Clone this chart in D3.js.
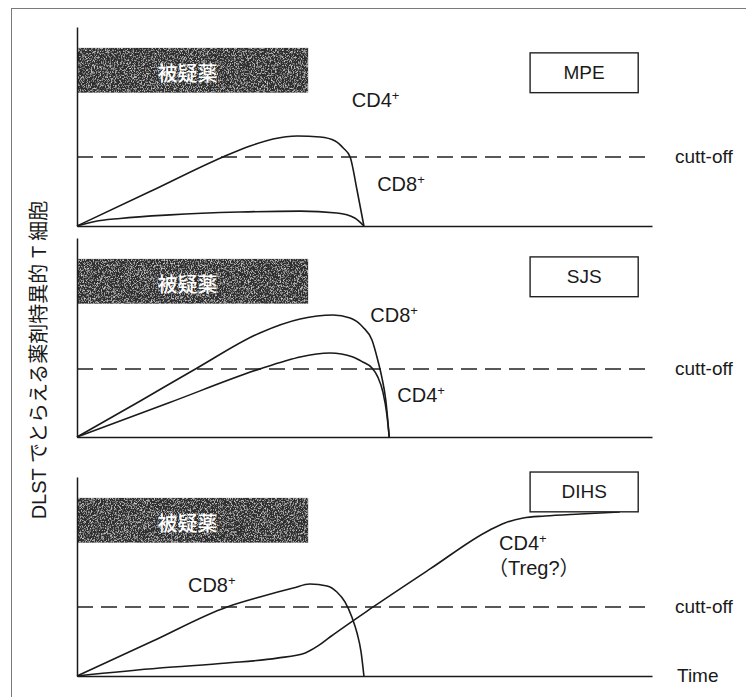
<!DOCTYPE html>
<html><head><meta charset="utf-8">
<script src="https://cdn.jsdelivr.net/npm/d3@7"></script>
<style>
html,body{margin:0;padding:0;background:#fff;}
svg{display:block;}
text{font-family:"Liberation Sans",Arial,"Noto Sans CJK JP",sans-serif;fill:#1a1a1a;}
</style></head><body>
<svg id="chart" width="746" height="697"></svg>
<script>
// ---------- data ----------
const panelNames = ["MPE", "SJS", "DIHS"];
const drugLabel = "被疑薬";
const drugPeriod = [0, 40.2];            // time units
const cutoffs = [34.7, 34.2, 34.7];      // response level of the cut-off per panel
const yAxisTitle = "DLST でとらえる薬剤特異的 T 細胞";
const cutoffLabel = "cutt-off";
const timeLabel = "Time";

// [time, response]
const mpeCD4 = [[0,0],[12.7,17.3],[25.4,34.7],[30.1,40.2],[34.1,43.7],[38.3,45.2],[42.3,44.7],[44.9,42.7],[46.3,39.2],[47.5,34.7],[48.7,18.1],[49.9,0]];
const mpeCD8 = [[0,0],[3.1,2.3],[7.5,3.8],[16.2,5.6],[28.3,7.0],[38.8,7.5],[45.2,6.5],[48.3,4.0],[49.9,0]];
const sjsCD8 = [[0,0],[11,18.1],[20.9,34.7],[31.8,52.3],[38.8,59.3],[44.5,61.3],[47.5,59.8],[49.7,55.3],[51.3,48.7],[52.3,38.7],[53.0,30.2],[53.7,18.6],[54.3,0]];
const sjsCD4 = [[0,0],[16,17.2],[32.3,34.7],[36.2,38.2],[38.8,40.2],[44.0,42.2],[48.0,40.2],[49.7,37.7],[51.3,34.7],[52.3,30.2],[53.2,22.6],[53.9,11.1],[54.3,0]];
const dihsCD8 = [[0,0],[13,17.3],[26.1,34.7],[31.8,39.7],[37.6,44.2],[40.5,46.2],[43.5,45.2],[45.2,42.2],[46.6,37.2],[47.8,29.6],[48.7,21.6],[49.4,12.1],[49.9,0]];
const dihsCD4 = [[0,0],[14.4,4.0],[26.1,6.5],[34.8,9.0],[39.7,11.6],[41.9,15.1],[44.0,19.6],[51.5,34.7],[61.4,53.8],[71.8,73.4],[74.4,76.9],[77.6,79.4],[81.4,80.4],[87.5,81.4],[94.4,82.4]];

const panelSeries = [[mpeCD4, mpeCD8], [sjsCD8, sjsCD4], [dihsCD8, dihsCD4]];
// labels: [main, superscript, second line]
const panelLabels = [
  [["CD4", "+"], ["CD8", "+"]],
  [["CD8", "+"], ["CD4", "+"]],
  [["CD8", "+"], ["CD4", "+", "（Treg?）"]]
];

// ---------- layout ----------
const W = 746, H = 697;
const bases = [226, 437, 676];
const panelH = 199;
const labelPos = [            // [t, v] of label baseline start
  [[47.8, 59.8], [52.2, 17.6]],
  [[51.0, 57.8], [55.7, 17.6]],
  [[19.3, 42.2], [73.4, 63.3]]
];
const boxTop = [87, 90.5, 102.5];   // v units
const boxT = [78.8, 97.6];
const boxHv = 20;

const svg = d3.select("#chart");
const defs = svg.append("defs");
const f = defs.append("filter").attr("id", "grain")
  .attr("x", 0).attr("y", 0).attr("width", 1).attr("height", 1);
f.append("feTurbulence").attr("type", "fractalNoise").attr("baseFrequency", "1.3 0.6")
  .attr("numOctaves", 2).attr("seed", 5).attr("result", "noise");
f.append("feColorMatrix").attr("in", "noise").attr("type", "matrix")
  .attr("values", "0 0 0 0 0.72  0 0 0 0 0.72  0 0 0 0 0.72  2.6 0 0 0 -1.25").attr("result", "speck");
f.append("feComposite").attr("in", "speck").attr("in2", "SourceGraphic").attr("operator", "in").attr("result", "speckIn");
const fm = f.append("feMerge");
fm.append("feMergeNode").attr("in", "SourceGraphic");
fm.append("feMergeNode").attr("in", "speckIn");

svg.append("rect").attr("width", W).attr("height", H).attr("fill", "#fff");
// outer frame
svg.append("rect").attr("x", 11.5).attr("y", 8.5).attr("width", 800).attr("height", 800)
  .attr("fill", "none").attr("stroke", "#7a7a7a").attr("stroke-width", 1);

const x = d3.scaleLinear().domain([0, 100]).range([77, 652]);

panelNames.forEach((name, i) => {
  const base = bases[i];
  const y = d3.scaleLinear().domain([0, 100]).range([base, base - panelH]);
  const g = svg.append("g");

  // drug bar
  g.append("rect")
    .attr("x", x(drugPeriod[0])).attr("width", x(drugPeriod[1]) - x(drugPeriod[0]))
    .attr("y", y(89.5)).attr("height", y(67) - y(89.5))
    .attr("fill", "#2e2e2e").attr("filter", "url(#grain)");
  g.append("text")
    .attr("x", x(drugPeriod[0]) + (x(drugPeriod[1]) - x(drugPeriod[0])) / 2 - 5)
    .attr("y", (y(89.5) + y(67)) / 2 + 2)
    .attr("dominant-baseline", "central").attr("text-anchor", "middle")
    .style("font-family", "'Noto Sans CJK JP',sans-serif").style("font-size", "20px")
    .style("font-weight", 500).style("fill", "#ffffff")
    .text(drugLabel);

  // axes
  const xa = g.append("g").attr("transform", `translate(0,${base})`)
    .call(d3.axisBottom(x).tickValues([]).tickSizeOuter(0));
  const ya = g.append("g").attr("transform", `translate(${x(0)},0)`)
    .call(d3.axisLeft(y).tickValues([]).tickSizeOuter(0));
  [xa, ya].forEach(a => a.select(".domain").attr("stroke", "#1a1a1a").attr("stroke-width", 1.5));

  // cutoff
  g.append("line")
    .attr("x1", x(0)).attr("x2", x(100))
    .attr("y1", y(cutoffs[i])).attr("y2", y(cutoffs[i]))
    .attr("stroke", "#222").attr("stroke-width", 1.4).attr("stroke-dasharray", "16,8");
  g.append("text").attr("x", 675).attr("y", y(cutoffs[i]) + 6)
    .style("font-size", "19px").text(cutoffLabel);

  // curves
  const line = d3.line().x(d => x(d[0])).y(d => y(d[1])).curve(d3.curveMonotoneX);
  panelSeries[i].forEach(s => {
    g.append("path").attr("d", line(s)).attr("fill", "none")
      .attr("stroke", "#1a1a1a").attr("stroke-width", 1.6);
  });

  // labels
  panelLabels[i].forEach((lab, j) => {
    const p = labelPos[i][j];
    const t = g.append("text").attr("x", x(p[0])).attr("y", y(p[1])).style("font-size", "20px");
    t.append("tspan").text(lab[0]);
    t.append("tspan").attr("dy", -7).style("font-size", "13px").text(lab[1]);
    if (lab[2]) {
      g.append("text").attr("x", x(p[0]) - 11).attr("y", y(p[1]) + 25)
        .style("font-size", "20px").text(lab[2]);
    }
  });

  // panel name box
  g.append("rect")
    .attr("x", x(boxT[0])).attr("width", x(boxT[1]) - x(boxT[0]))
    .attr("y", y(boxTop[i])).attr("height", y(boxTop[i] - boxHv) - y(boxTop[i]))
    .attr("fill", "#fff").attr("stroke", "#222").attr("stroke-width", 1.4);
  g.append("text")
    .attr("x", (x(boxT[0]) + x(boxT[1])) / 2)
    .attr("y", (y(boxTop[i]) + y(boxTop[i] - boxHv)) / 2)
    .attr("text-anchor", "middle").attr("dominant-baseline", "central")
    .style("font-size", "19px").text(name);

  if (i === 2) {
    g.append("text").attr("x", 677).attr("y", base + 6).style("font-size", "19px").text(timeLabel);
  }
});

// y axis title
svg.append("text")
  .attr("transform", "translate(46,360) rotate(-90)")
  .attr("text-anchor", "middle")
  .style("font-size", "20px")
  .text(yAxisTitle);
</script>
</body></html>
